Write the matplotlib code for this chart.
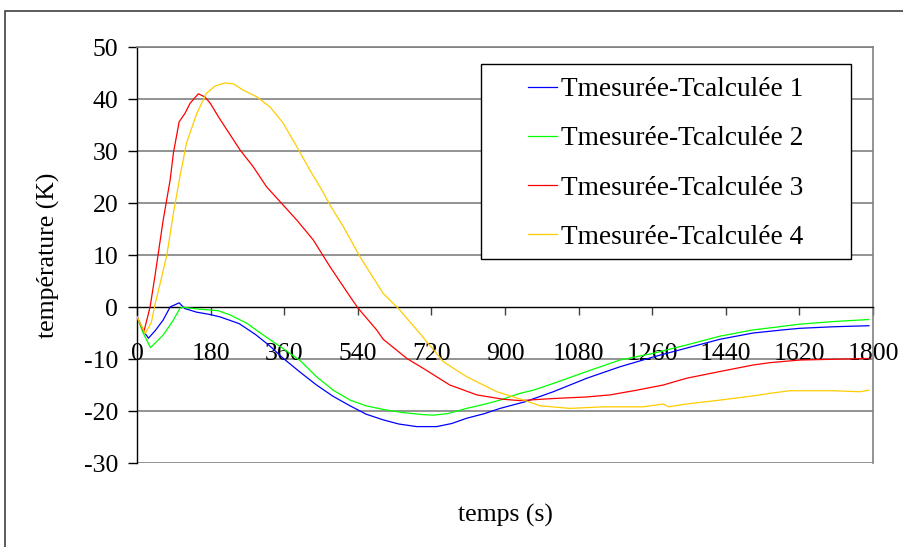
import matplotlib
matplotlib.use("Agg")
import matplotlib.pyplot as plt
from matplotlib.patches import Rectangle

plt.rcParams['font.family'] = ['Liberation Serif', 'DejaVu Serif']

# ---- data ----
labels = ["Tmesurée-Tcalculée 1", "Tmesurée-Tcalculée 2",
          "Tmesurée-Tcalculée 3", "Tmesurée-Tcalculée 4"]

t1 = [0, 15, 28, 45, 64, 81, 103, 117, 146, 176, 203, 250, 290, 325, 358, 400,
      439, 480, 521, 560, 602, 640, 684, 733, 770, 806, 850, 888, 950, 1018,
      1100, 1181, 1263, 1344, 1426, 1507, 1580, 1621, 1703, 1790]
v1 = [-1.9, -4.5, -6.0, -4.5, -2.5, 0.0, 0.8, -0.3, -1.0, -1.4, -1.9, -3.2,
      -5.3, -7.5, -9.9, -12.6, -15.0, -17.2, -19.0, -20.6, -21.7, -22.5, -23.0,
      -23.0, -22.4, -21.4, -20.5, -19.5, -18.2, -16.3, -13.7, -11.5, -9.6,
      -7.9, -6.2, -5.0, -4.4, -4.1, -3.8, -3.6]

t2 = [0, 15, 33, 64, 89, 105, 113, 150, 198, 227, 268, 309, 350, 399, 439,
      480, 521, 560, 602, 650, 700, 725, 760, 806, 850, 888, 937, 969, 1018,
      1100, 1181, 1263, 1344, 1426, 1507, 1560, 1621, 1703, 1790]
v2 = [-1.9, -5.0, -7.8, -5.4, -2.5, -0.25, -0.05, -0.4, -0.7, -1.5, -3.1,
      -5.4, -7.6, -10.3, -13.4, -16.0, -17.9, -19.0, -19.7, -20.3, -20.7,
      -20.8, -20.5, -19.5, -18.7, -17.9, -16.6, -16.0, -14.7, -12.4, -10.2,
      -8.9, -7.3, -5.6, -4.4, -3.9, -3.3, -2.8, -2.4]

t3 = [0, 17, 32, 44, 64, 81, 89, 103, 117, 130, 150, 166, 179, 199, 223, 252,
      284, 317, 354, 391, 431, 472, 521, 541, 586, 602, 660, 700, 765, 831,
      896, 937, 1018, 1100, 1157, 1222, 1287, 1344, 1426, 1507, 1548, 1621,
      1703, 1790]
v3 = [-1.9, -4.7, 0.0, 6.0, 16.7, 24.4, 29.6, 35.6, 37.2, 39.2, 41.0, 40.4,
      39.2, 36.6, 33.7, 30.2, 27.0, 23.1, 19.9, 16.7, 12.9, 7.75, 2.0, -0.25,
      -4.4, -6.2, -9.9, -11.8, -15.0, -16.9, -17.75, -18.0, -17.6, -17.3,
      -16.9, -16.0, -15.0, -13.7, -12.4, -11.15, -10.7, -10.2, -10.05, -9.9]

t4 = [0, 20, 35, 44, 55, 64, 73, 89, 105, 121, 146, 170, 191, 215, 236, 260,
      293, 325, 358, 391, 423, 452, 472, 505, 545, 602, 639, 692, 749, 806,
      880, 945, 986, 1059, 1140, 1238, 1287, 1300, 1344, 1426, 1507, 1548,
      1597, 1703, 1768, 1790]
v4 = [-1.9, -5.1, -3.0, 0.5, 4.0, 7.0, 10.0, 18.0, 25.1, 31.5, 37.2, 41.1,
      42.5, 43.1, 42.9, 41.7, 40.4, 38.5, 35.3, 30.8, 26.3, 22.5, 19.6, 15.4,
      9.7, 2.6, -0.25, -5.1, -10.5, -13.4, -16.3, -17.9, -19.0, -19.5, -19.2,
      -19.2, -18.65, -19.2, -18.65, -17.9, -17.1, -16.6, -16.1, -16.1, -16.3,
      -16.0]

xticks = list(range(0, 1801, 180))
yticks = list(range(-30, 51, 10))

colors = ["#0000FF", "#00FF00", "#FF0000", "#FFCC00"]

# ---- figure ----
W, H = 904, 547
fig = plt.figure(figsize=(W / 100, H / 100), dpi=100)

# outer chart border
fig.patches.append(Rectangle((5 / W, -0.1), 1.2, 1 - 11 / H + 0.1,
                             transform=fig.transFigure, fill=False,
                             edgecolor="#404040", linewidth=1.2))

ax = fig.add_axes([137 / W, 1 - 463 / H, (873 - 137) / W, (463 - 47) / H])

for t, v, c, lab in zip([t1, t2, t3, t4], [v1, v2, v3, v4], colors, labels):
    ax.plot(t, v, color=c, lw=0.9, label=lab, zorder=3)

ax.set_xlim(0, 1800)
ax.set_ylim(-30, 50)

# gridlines
for y in yticks:
    if y != 0:
        ax.axhline(y, color="#808080", lw=1.2, zorder=1)

ax.spines['bottom'].set_position(('data', 0))
ax.spines['bottom'].set_color('black')
ax.spines['bottom'].set_linewidth(1.0)
ax.spines['left'].set_color('black')
ax.spines['left'].set_linewidth(1.0)
ax.spines['top'].set_color('#808080')
ax.spines['right'].set_color('#808080')
ax.spines['top'].set_linewidth(1.2)
ax.spines['right'].set_linewidth(1.2)

ax.set_xticks(xticks)
ax.set_xticklabels([str(x) for x in xticks])
ax.set_yticks(yticks)
ax.set_yticklabels([str(y) for y in yticks])
ax.tick_params(axis='x', direction='out', length=6, width=1.0, pad=20,
               labelsize=18.5, color='#404040')
ax.tick_params(axis='y', direction='out', length=6.5, width=1.0, pad=7,
               labelsize=18.5)

fig.text(48 / W, 1 - 255 / H, "température (K)", rotation=90,
         ha='center', va='center', fontsize=18.5)
fig.text(505 / W, 1 - 515 / H, "temps (s)", ha='center', va='center',
         fontsize=18.5)

# legend box
lx0, ly0, lx1, ly1 = 481, 64, 851, 259
ax.add_patch(Rectangle((lx0 / W, 1 - ly1 / H), (lx1 - lx0) / W,
                       (ly1 - ly0) / H, transform=fig.transFigure,
                       facecolor='white', edgecolor='black', lw=1.0,
                       zorder=5))
leg = ax.legend(loc='center', bbox_to_anchor=(((lx0 + lx1) / 2) / W,
                                              1 - ((ly0 + ly1) / 2 + 2) / H),
                bbox_transform=fig.transFigure, frameon=False,
                fontsize=19.7, handlelength=1.05, handletextpad=0.15,
                labelspacing=0.88, borderpad=0)
leg.set_zorder(6)

fig.savefig("out.png", dpi=100)
